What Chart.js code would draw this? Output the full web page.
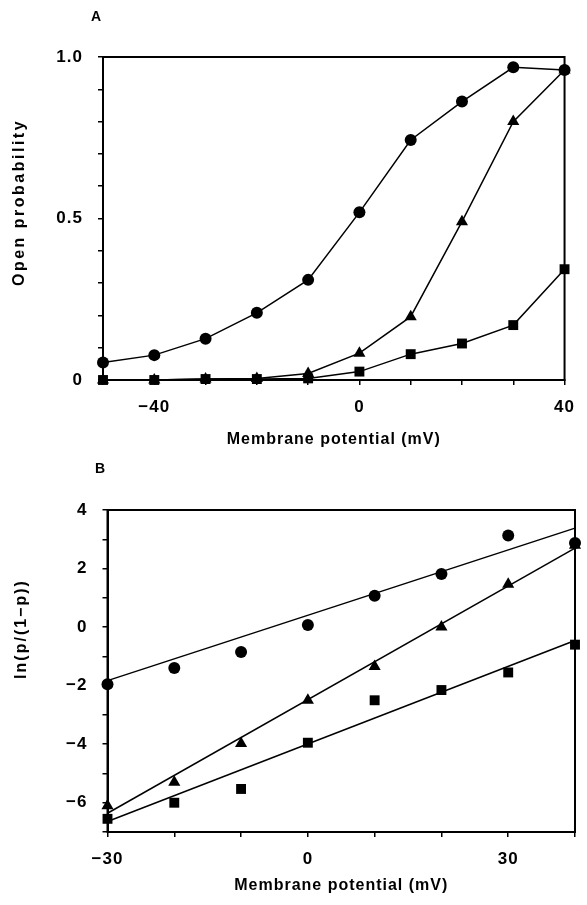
<!DOCTYPE html>
<html><head><meta charset="utf-8">
<script src="https://cdn.jsdelivr.net/npm/chart.js@4/dist/chart.umd.min.js"></script>
<style>
html,body{margin:0;padding:0;background:#fff;}
#wrap{position:relative;width:587px;height:905px;}
.panel{position:absolute;left:0;width:587px;}
</style></head><body>
<div id="wrap">
<div class="panel" style="top:0;height:455px"><canvas id="cA"></canvas></div>
<div class="panel" style="top:455px;height:450px"><canvas id="cB"></canvas></div>
</div>
<script>
// ---- Panel A data ----
const xA = [-50, -40, -30, -20, -10, 0, 10, 20, 30, 40];
const circlesA = [0.054, 0.077, 0.128, 0.208, 0.31, 0.519, 0.743, 0.862, 0.968, 0.96];
const trianglesA = [0, 0, 0.003, 0.005, 0.02, 0.083, 0.196, 0.49, 0.80, 0.96];
const squaresA = [0, 0, 0.003, 0.003, 0.005, 0.026, 0.08, 0.113, 0.17, 0.343];
const xTickValsA = [-40, 0, 40];
const xTickTextA = ['\u221240', '0', '40'];
const yTickValsA = [0, 0.5, 1.0];
const yTickTextA = ['0', '0.5', '1.0'];

// ---- Panel B data ----
const xB = [-30, -20, -10, 0, 10, 20, 30, 40];
const circlesB = [-1.95, -1.4, -0.85, 0.07, 1.07, 1.81, 3.13, 2.87];
const trianglesB = [-6.1, -5.3, -3.98, -2.5, -1.35, 0.0, 1.46, 2.8];
const squaresB = [-6.55, -6.0, -5.53, -3.95, -2.5, -2.15, -1.55, -0.6];
const fitX = [-30, 40];
const fitCirclesB = [-1.83, 3.38];
const fitTrianglesB = [-6.36, 2.70];
const fitSquaresB = [-6.64, -0.46];
const xTickValsB = [-30, 0, 30];
const xTickTextB = ['\u221230', '0', '30'];
const yTickValsB = [-6, -4, -2, 0, 2, 4];
const yTickTextB = ['\u22126', '\u22124', '\u22122', '0', '2', '4'];

const FONT = "'Liberation Sans', Arial, sans-serif";
const LS = '1px';

function pick(vals, texts) {
  return v => { const i = vals.findIndex(t => Math.abs(t - v) < 1e-6); return i >= 0 ? texts[i] : ''; };
}
function pts(xs, ys) { return xs.map((x, i) => ({x: x, y: ys[i]})); }

const spacing = {
  id: 'spacing',
  beforeLayout(c) { c.ctx.letterSpacing = LS; },
  beforeDraw(c) { c.ctx.letterSpacing = LS; }
};
// y-axis title: wider tracking and a vertical shift, drawn by the scale itself
const ytitle = {
  id: 'ytitle',
  afterLayout(c, args, opts) {
    const s = c.scales.y;
    if (!s || s._ytWrapped) return;
    const orig = s.drawTitle;
    s.drawTitle = function () {
      const ctx = c.ctx;
      ctx.save();
      ctx.letterSpacing = opts.ls;
      ctx.translate(0, opts.dy);
      orig.apply(this, arguments);
      ctx.restore();
    };
    s._ytWrapped = true;
  }
};
const box = {
  id: 'box',
  beforeDatasetsDraw(c) {
    const a = c.chartArea, ctx = c.ctx;
    ctx.save();
    ctx.strokeStyle = '#000'; ctx.lineWidth = 2;
    ctx.strokeRect(a.left, a.top, a.right - a.left, a.bottom - a.top);
    ctx.restore();
  }
};
const panelLabel = {
  id: 'panelLabel',
  afterDraw(c, args, opts) {
    const ctx = c.ctx;
    ctx.save();
    ctx.letterSpacing = '0px';
    ctx.font = "bold 14px " + FONT;
    ctx.fillStyle = '#000';
    ctx.textBaseline = 'middle';
    ctx.fillText(opts.text, opts.x, opts.y);
    ctx.restore();
  }
};

function series(data, style, radius) {
  return {
    data: data, showLine: true, borderColor: '#000', backgroundColor: '#000',
    borderWidth: 1.5, pointStyle: style, pointRadius: radius, pointBorderWidth: 0,
    clip: false, tension: 0
  };
}
function fitLine(data) {
  return { data: data, showLine: true, borderColor: '#000', borderWidth: 1.5, pointRadius: 0, clip: false };
}

function xScale(min, max, vals, texts, titlePad, h) {
  return {
    type: 'linear', min: min, max: max,
    ticks: { stepSize: 10, autoSkip: false, maxRotation: 0, color: '#000', padding: 12,
             font: { family: FONT, size: 17, weight: 'bold' }, callback: pick(vals, texts) },
    grid: { drawOnChartArea: false, drawTicks: true, tickLength: 5, color: '#000', lineWidth: 1.5 },
    border: { display: true, color: '#000', width: 2 },
    title: { display: true, text: 'Membrane potential (mV)', color: '#000',
             font: { family: FONT, size: 16, weight: 'bold' }, padding: { top: 0, bottom: titlePad } },
    afterFit(s) { s.height = h; }
  };
}
function yScale(min, max, step, vals, texts, title, titlePad, w) {
  return {
    type: 'linear', min: min, max: max,
    ticks: { stepSize: step, autoSkip: false, color: '#000', padding: 15,
             font: { family: FONT, size: 17, weight: 'bold' }, callback: pick(vals, texts) },
    grid: { drawOnChartArea: false, drawTicks: true, tickLength: 5, color: '#000', lineWidth: 1.5 },
    border: { display: true, color: '#000', width: 2 },
    title: { display: true, text: title, color: '#000',
             font: { family: FONT, size: 16, weight: 'bold' }, padding: { top: titlePad, bottom: 0 } },
    afterFit(s) { s.width = w; }
  };
}

new Chart(document.getElementById('cA'), {
  type: 'scatter',
  data: { datasets: [
    series(pts(xA, squaresA), 'rect', 7),
    series(pts(xA, trianglesA), 'triangle', 7),
    series(pts(xA, circlesA), 'circle', 6)
  ]},
  options: {
    responsive: true, maintainAspectRatio: false, animation: false,
    layout: { padding: { top: 57, right: 14, left: 0, bottom: 0 } },
    plugins: { legend: { display: false }, tooltip: { enabled: false },
               panelLabel: { text: 'A', x: 91, y: 17 },
               ytitle: { ls: '2.5px', dy: -16 } },
    scales: {
      x: xScale(-50, 40, xTickValsA, xTickTextA, 6, 75),
      y: yScale(0, 1, 0.1, yTickValsA, yTickTextA, 'Open probability', 10, 103)
    }
  },
  plugins: [spacing, ytitle, box, panelLabel]
});

new Chart(document.getElementById('cB'), {
  type: 'scatter',
  data: { datasets: [
    fitLine(pts(fitX, fitCirclesB)),
    fitLine(pts(fitX, fitTrianglesB)),
    fitLine(pts(fitX, fitSquaresB)),
    Object.assign(series(pts(xB, squaresB), 'rect', 7), { showLine: false }),
    Object.assign(series(pts(xB, trianglesB), 'triangle', 7), { showLine: false }),
    Object.assign(series(pts(xB, circlesB), 'circle', 6), { showLine: false })
  ]},
  options: {
    responsive: true, maintainAspectRatio: false, animation: false,
    layout: { padding: { top: 55, right: 9.5, left: 0, bottom: 0 } },
    plugins: { legend: { display: false }, tooltip: { enabled: false },
               panelLabel: { text: 'B', x: 95, y: 14 },
               ytitle: { ls: '2px', dy: -42 } },
    scales: {
      x: xScale(-30, 40, xTickValsB, xTickTextB, 10, 73),
      y: yScale(-7, 4, 1, yTickValsB, yTickTextB, 'ln(p/(1\u2212p))', 12, 107.5)
    }
  },
  plugins: [spacing, ytitle, box, panelLabel]
});
</script>
</body></html>
